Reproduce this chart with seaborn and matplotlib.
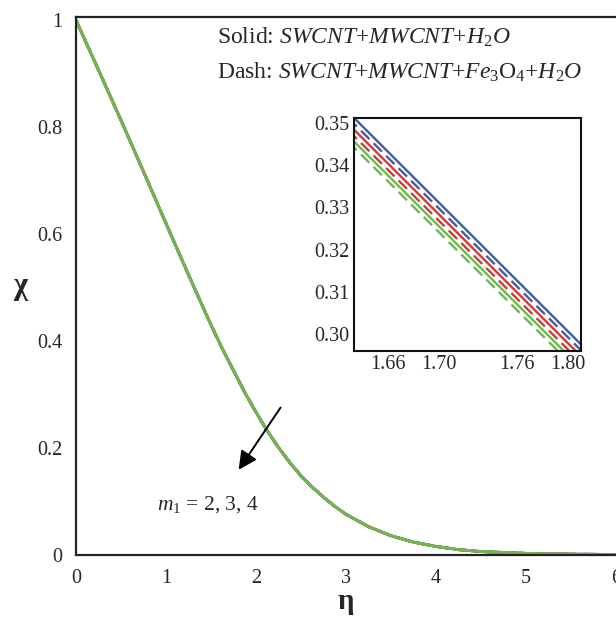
import numpy as np
import pandas as pd
import seaborn as sns
import matplotlib.pyplot as plt

sns.set_style('white')
plt.rcParams['font.family'] = ['Liberation Serif', 'DejaVu Serif']
plt.rcParams['mathtext.fontset'] = 'custom'
plt.rcParams['mathtext.rm'] = 'Liberation Serif'
plt.rcParams['mathtext.it'] = 'Liberation Serif:italic'
plt.rcParams['mathtext.bf'] = 'Liberation Serif:bold'

# main profile chi(eta) (all six curves overlap here)
eta_main = [0.0, 0.25, 0.5, 0.75, 1.0, 1.25, 1.5, 1.625, 1.75, 1.875, 2.0, 2.125,
            2.25, 2.375, 2.5, 2.625, 2.75, 2.875, 3.0, 3.25, 3.5, 3.75, 4.0, 4.25,
            4.5, 5.0, 5.5, 6.0]
chi_main = [1.0, 0.907, 0.813, 0.717, 0.62, 0.524, 0.43, 0.386, 0.345, 0.304, 0.267, 0.232,
            0.201, 0.173, 0.148, 0.127, 0.108, 0.091, 0.076, 0.053, 0.036, 0.024, 0.016, 0.010,
            0.0065, 0.003, 0.0015, 0.001]

m1_values = [2, 3, 4]
fluids = ['Solid', 'Dash']

# inset (zoomed) segments
eta_inset = [1.62, 1.82]
chi_in_m2_solid = [0.3555, 0.2945]
chi_in_m2_dash = [0.3541, 0.2931]
chi_in_m3_solid = [0.3527, 0.2917]
chi_in_m3_dash = [0.3512, 0.2902]
chi_in_m4_solid = [0.3499, 0.2889]
chi_in_m4_dash = [0.3485, 0.2875]

colors = {2: '#3f5ca8', 3: '#d43a33', 4: '#6db852'}
dash_map = {'Solid': '', 'Dash': (5, 2.5)}

# long tables for seaborn
rows = []
for m in m1_values:
    for f in fluids:
        for e, c in zip(eta_main, chi_main):
            rows.append({'eta': e, 'chi': c, 'm1': m, 'fluid': f})
df_main = pd.DataFrame(rows)

inset_lists = {
    (2, 'Solid'): chi_in_m2_solid, (2, 'Dash'): chi_in_m2_dash,
    (3, 'Solid'): chi_in_m3_solid, (3, 'Dash'): chi_in_m3_dash,
    (4, 'Solid'): chi_in_m4_solid, (4, 'Dash'): chi_in_m4_dash,
}
rows = []
for (m, f), vals in inset_lists.items():
    for e, c in zip(eta_inset, vals):
        rows.append({'eta': e, 'chi': c, 'm1': m, 'fluid': f})
df_inset = pd.DataFrame(rows)

fig = plt.figure(figsize=(6.16, 6.19), dpi=100)
ax = fig.add_axes([0.1234, 0.1034, 0.8766, 0.869])

sns.lineplot(data=df_main, x='eta', y='chi', hue='m1', style='fluid',
             hue_order=m1_values, style_order=fluids, palette=colors,
             dashes=dash_map, linewidth=2.0, legend=False, ax=ax,
             estimator=None, sort=False)
ax.set_xlim(0, 6)
ax.set_ylim(0, 1.006)
ax.set_xticks([0, 1, 2, 3, 4, 5, 6])
ax.set_yticks([0, 0.2, 0.4, 0.6, 0.8, 1.0])
ax.set_yticklabels(['0', '0.2', '0.4', '0.6', '0.8', '1'])
ax.tick_params(axis='both', labelsize=14.5, length=3, width=0.6, color='#bbbbbb',
               direction='out', pad=7)
for s in ['left', 'bottom', 'top']:
    ax.spines[s].set_color('#222222')
    ax.spines[s].set_linewidth(1.6)
ax.spines['right'].set_visible(False)
ax.set_xlabel('η', fontsize=21, fontweight='bold', labelpad=0)
ax.set_ylabel('χ', fontsize=22, fontweight='bold', rotation=0, labelpad=12, va='center')

ax.text(1.57, 0.968, r'Solid: $SWCNT$+$MWCNT$+$H_2O$', fontsize=17, va='center')
ax.text(1.57, 0.903, r'Dash: $SWCNT$+$MWCNT$+$Fe_3$O$_4$+$H_2O$', fontsize=17, va='center')
ax.text(0.9, 0.095, r'$m_1$ = 2, 3, 4', fontsize=15.5, va='center')
ax.annotate('', xy=(1.79, 0.155), xytext=(2.29, 0.28),
            arrowprops=dict(arrowstyle='-|>', mutation_scale=28, lw=1.4, color='black'))

ins = fig.add_axes([0.5747, 0.4330, 0.3685, 0.3764])
sns.lineplot(data=df_inset, x='eta', y='chi', hue='m1', style='fluid',
             hue_order=m1_values, style_order=fluids, palette=colors,
             dashes=dash_map, linewidth=1.7, legend=False, ax=ins,
             estimator=None, sort=False)
ins.set_xlim(1.634, 1.81)
ins.set_ylim(0.296, 0.3512)
ins.set_xticks([1.66, 1.70, 1.76, 1.80])
ins.set_xticklabels(['1.66', '1.70', '1.76', '1.80'])
ins.set_yticks([0.30, 0.31, 0.32, 0.33, 0.34, 0.35])
ins.set_yticklabels(['0.30', '0.31', '0.32', '0.33', '0.34', '0.35'])
ins.tick_params(axis='both', labelsize=14.5, length=0, pad=3)
ins.set_xlabel('')
ins.set_ylabel('')
for s in ins.spines.values():
    s.set_color('#111111')
    s.set_linewidth(1.5)

fig.savefig('out.png', dpi=100)
